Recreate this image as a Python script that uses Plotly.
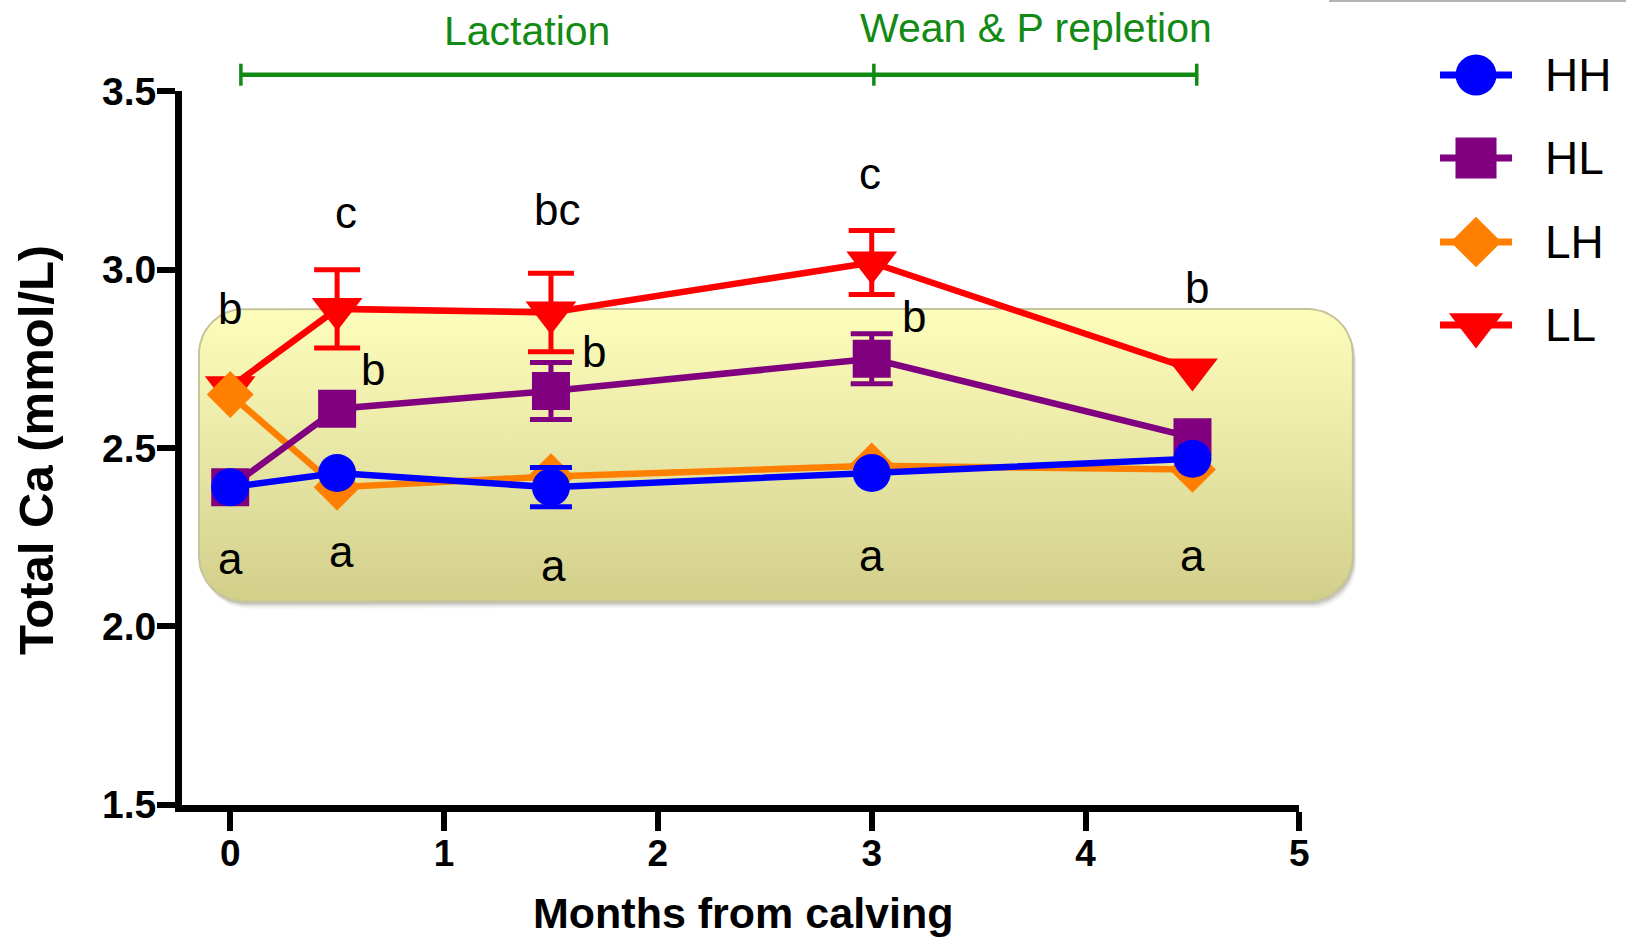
import numpy as np
import plotly.graph_objects as go

# ---- data -------------------------------------------------------------
months = [0, 0.5, 1.5, 3, 4.5]

hh = [2.39, 2.43, 2.39, 2.43, 2.47]
hl = [2.39, 2.61, 2.66, 2.75, 2.53]
lh = [2.65, 2.39, 2.42, 2.45, 2.44]
ll = [2.67, 2.89, 2.88, 3.02, 2.72]

hh_err = [None, None, 0.055, None, None]
hl_err = [None, None, 0.08, 0.07, None]
ll_err = [None, 0.11, 0.11, 0.09, None]

# significance letters: (month, y position, label)
letters_x = [0, 0, 0.54, 0.67, 0.52, 1.53, 1.70, 1.51, 2.99, 3.20, 3.00, 4.52, 4.50]
letters_y = [2.89, 2.19, 3.16, 2.72, 2.21, 3.17, 2.77, 2.17, 3.27, 2.87, 2.20, 2.95, 2.20]
letters_t = ["b", "a", "c", "b", "a", "bc", "b", "a", "c", "b", "a", "b", "a"]

x_ticks = [0, 1, 2, 3, 4, 5]
y_ticks = [1.5, 2.0, 2.5, 3.0, 3.5]

phase_edges = [0.05, 3.01, 4.52]
phase_names = ["Lactation", "Wean & P repletion"]
phase_label_x = [1.39, 3.77]

band_low, band_high = 2.07, 2.89
band_left, band_right = -0.146, 5.25

# ---- geometry ---------------------------------------------------------
W, H = 1626, 939
X0_PX, X1_PX = 182.0, 1299.4        # plotting frame, left/right (px)
Y_TOP_PX, Y_BOT_PX = 91.3, 804.7    # plotting frame, top/bottom (px)
X_ZERO_PX = 230.2                   # pixel position of month 0
XMAX, YR = 5.0, [1.5, 3.5]
sx = (X1_PX - X_ZERO_PX) / XMAX
XR = [-(X_ZERO_PX - X0_PX) / sx, XMAX]
sy = (Y_BOT_PX - Y_TOP_PX) / (YR[1] - YR[0])

FX = [XR[0] - X0_PX / sx, XR[0] + (W - X0_PX) / sx]
FY = [YR[0] - (H - Y_BOT_PX) / sy, YR[1] + Y_TOP_PX / sy]


def px_x(p):
    return XR[0] + (p - X0_PX) / sx


def px_y(p):
    return YR[0] + (Y_BOT_PX - p) / sy


FONT = "Liberation Sans, Arial, Helvetica, sans-serif"
GREEN = "#138a13"

fig = go.Figure()


def rounded_rect(x0, x1, y0, y1, r_px, dx_px=0.0, dy_px=0.0):
    rx, ry = r_px / sx, r_px / sy
    ox, oy = dx_px / sx, -dy_px / sy
    pts_x, pts_y = [], []
    corners = [
        (x1 - rx, y1 - ry, 0, 90),
        (x0 + rx, y1 - ry, 90, 180),
        (x0 + rx, y0 + ry, 180, 270),
        (x1 - rx, y0 + ry, 270, 360),
    ]
    for cx, cy, a0, a1 in corners:
        t = np.radians(np.linspace(a0, a1, 16))
        pts_x.extend(cx + rx * np.cos(t) + ox)
        pts_y.extend(cy + ry * np.sin(t) + oy)
    pts_x.append(pts_x[0])
    pts_y.append(pts_y[0])
    return pts_x, pts_y


# soft shadow under the reference band
for off, alpha in [(7, 0.06), (5, 0.10), (3, 0.16)]:
    sxp, syp = rounded_rect(band_left, band_right, band_low, band_high, 45, off * 0.5, off)
    fig.add_trace(go.Scatter(x=sxp, y=syp, mode="lines", fill="toself",
                             fillcolor=f"rgba(60,60,40,{alpha})",
                             line=dict(width=0), hoverinfo="skip",
                             showlegend=False, xaxis="x", yaxis="y"))

bx, by = rounded_rect(band_left, band_right, band_low, band_high, 45)
fig.add_trace(go.Scatter(
    x=bx, y=by, mode="lines", fill="toself",
    fillgradient=dict(type="vertical",
                      colorscale=[[0, "#d1cf8a"], [0.55, "#ebe9a8"], [1, "#fdfdbc"]]),
    line=dict(color="#c6c49a", width=2), hoverinfo="skip",
    showlegend=False, xaxis="x", yaxis="y"))

# phase bracket above the plot
bracket_y = px_y(74.7)
tick_h = 11 / sy
fig.add_trace(go.Scatter(x=[phase_edges[0], phase_edges[2]], y=[bracket_y, bracket_y],
                         mode="lines", line=dict(color=GREEN, width=4.5),
                         hoverinfo="skip", showlegend=False, xaxis="x", yaxis="y"))
for e in phase_edges:
    fig.add_trace(go.Scatter(x=[e, e], y=[bracket_y - tick_h, bracket_y + tick_h],
                             mode="lines", line=dict(color=GREEN, width=3.5),
                             hoverinfo="skip", showlegend=False, xaxis="x", yaxis="y"))

# series styles (drawn bottom to top)
series = [
    ("LL", ll, ll_err, "#ff0000", "triangle-down", 44, 23),
    ("LH", lh, None, "#ff8000", "diamond", 36, 21),
    ("HL", hl, hl_err, "#800080", "square", 38, 21),
    ("HH", hh, hh_err, "#0000ff", "circle", 38, 21),
]

for name, vals, err, col, sym, size, capw in series:
    if err is not None:
        ex = [m for m, e in zip(months, err) if e is not None]
        ey = [v for v, e in zip(vals, err) if e is not None]
        ee = [e for e in err if e is not None]
        fig.add_trace(go.Scatter(
            x=ex, y=ey, mode="markers", marker=dict(size=1, color=col, opacity=0),
            error_y=dict(type="data", array=ee, visible=True, color=col,
                         thickness=5, width=capw),
            cliponaxis=False, hoverinfo="skip", showlegend=False,
            xaxis="x2", yaxis="y2"))
    fig.add_trace(go.Scatter(
        x=months, y=vals, name=name, mode="lines+markers",
        line=dict(color=col, width=6.5),
        marker=dict(symbol=sym, size=size, color=col, line=dict(width=0)),
        cliponaxis=False, showlegend=False, xaxis="x2", yaxis="y2"))

# legend drawn on the frame axes
legend_rows = [75, 158, 242, 325]
legend_order = ["HH", "HL", "LH", "LL"]
style = {s[0]: s for s in series}
for name, row in zip(legend_order, legend_rows):
    _, _, _, col, sym, size, _ = style[name]
    yy = px_y(row)
    fig.add_trace(go.Scatter(x=[px_x(1440), px_x(1512)], y=[yy, yy], mode="lines",
                             line=dict(color=col, width=7), hoverinfo="skip",
                             showlegend=False, xaxis="x", yaxis="y"))
    fig.add_trace(go.Scatter(x=[px_x(1476)], y=[yy], mode="markers",
                             marker=dict(symbol=sym, size=size + 3, color=col),
                             hoverinfo="skip", showlegend=False, xaxis="x", yaxis="y"))
    fig.add_annotation(x=px_x(1543), y=yy, xref="x", yref="y", text=name,
                       showarrow=False, xanchor="left", yanchor="middle",
                       font=dict(family=FONT, size=46, color="black"))

# phase labels
for lbl, lx, py in zip(phase_names, phase_label_x, [31, 28]):
    fig.add_annotation(x=lx, y=px_y(py), xref="x", yref="y", text=lbl,
                       showarrow=False, xanchor="center", yanchor="middle",
                       font=dict(family=FONT, size=41, color=GREEN))

# significance letters
for lx, ly, lt in zip(letters_x, letters_y, letters_t):
    fig.add_annotation(x=lx, y=ly, xref="x2", yref="y2", text=lt,
                       showarrow=False, xanchor="center", yanchor="middle",
                       font=dict(family=FONT, size=44, color="black"))

# axis titles
fig.add_annotation(x=36 / W, y=1 - 450 / H, xref="paper", yref="paper",
                   text="<b>Total Ca (mmol/L)</b>", textangle=-90, showarrow=False,
                   xanchor="center", yanchor="middle",
                   font=dict(family=FONT, size=49, color="black"))
fig.add_annotation(x=743 / W, y=1 - 913 / H, xref="paper", yref="paper",
                   text="<b>Months from calving</b>", showarrow=False,
                   xanchor="center", yanchor="middle",
                   font=dict(family=FONT, size=43, color="black"))

# thin rule at the top right
fig.add_shape(type="line", xref="paper", yref="paper", x0=1329 / W, x1=1.0,
              y0=1 - 1 / H, y1=1 - 1 / H, line=dict(color="#b4b4b4", width=2))

fig.update_layout(
    width=W, height=H, margin=dict(l=0, r=0, t=0, b=0, autoexpand=False),
    paper_bgcolor="white", plot_bgcolor="rgba(0,0,0,0)",
    showlegend=False,
    xaxis=dict(domain=[0, 1], range=FX, visible=False, fixedrange=True),
    yaxis=dict(domain=[0, 1], range=FY, visible=False, fixedrange=True),
    xaxis2=dict(domain=[X0_PX / W, X1_PX / W], range=XR, anchor="y2",
                tickvals=x_ticks, ticktext=[str(v) for v in x_ticks],
                showline=True, linecolor="black", linewidth=7,
                ticks="outside", ticklen=19, tickwidth=6, tickcolor="black",
                ticklabelstandoff=-9,
                showgrid=False, zeroline=False,
                tickfont=dict(family=FONT, size=37, color="black", weight="bold")),
    yaxis2=dict(domain=[1 - Y_BOT_PX / H, 1 - Y_TOP_PX / H], range=YR, anchor="x2",
                tickvals=y_ticks, ticktext=[f"{v:.1f}" for v in y_ticks],
                showline=True, linecolor="black", linewidth=7,
                ticks="outside", ticklen=18, tickwidth=6, tickcolor="black",
                ticklabelstandoff=-7,
                showgrid=False, zeroline=False,
                tickfont=dict(family=FONT, size=39, color="black", weight="bold")),
)

fig.write_html("out.html")
